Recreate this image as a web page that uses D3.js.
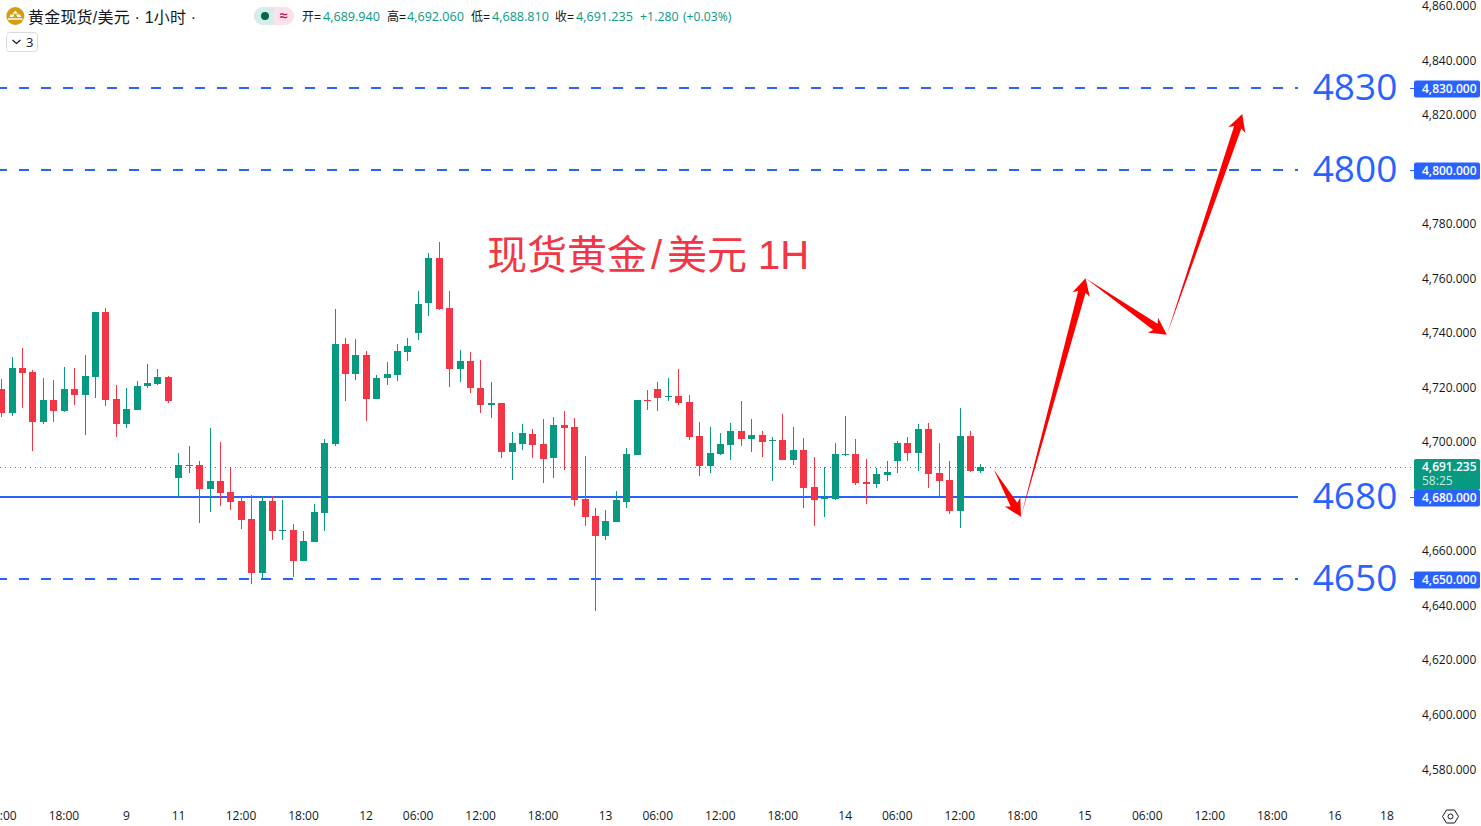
<!DOCTYPE html>
<html>
<head>
<meta charset="utf-8">
<script src="https://d3js.org/d3.v7.min.js"></script>
<style>
    html, body { margin: 0; padding: 0; background: #fff; overflow: hidden; }
    svg { display: block; }
    text { font-family: "Open Sans", "Noto Sans", sans-serif; }
    .cjk { font-family: "Liberation Sans", "Noto Sans CJK SC", sans-serif; }
    .axis path { display: none; }
</style>
</head>
<body>
<div id="chart"></div>
<script>
// hourly candles
const opens = [4719.4,4710.6,4727.1,4725.6,4707.3,4715.3,4711.3,4719.4,4717.2,4723.8,4747.6,4715.7,4706.5,4711.7,4720.5,4721.2,4723.8,4686.7,4691.1,4691.5,4682.7,4685.6,4681.6,4678.3,4671.7,4651.9,4678.3,4667.3,4667.7,4656.3,4663.3,4673.9,4699.2,4735.9,4724.9,4731.8,4715.7,4723.4,4724.5,4732.9,4739.9,4750.9,4767.4,4749.1,4726.7,4729.6,4719.7,4713.5,4714.2,4696.3,4699.2,4702.9,4699.2,4694.0,4706.2,4705.4,4679.0,4672.8,4665.5,4670.6,4677.9,4695.2,4715.3,4719.4,4716.4,4716.8,4714.6,4702.1,4691.1,4695.5,4698.8,4704.0,4701.0,4702.5,4700.3,4700.7,4693.3,4697.0,4683.4,4679.0,4679.0,4695.2,4695.5,4685.3,4684.5,4687.8,4693.0,4699.6,4695.9,4704.7,4688.6,4686.0,4674.6,4702.1,4689.3];
const highs = [4723.0,4731.1,4734.4,4726.3,4723.4,4722.7,4727.4,4727.1,4731.8,4747.6,4749.1,4720.8,4719.7,4722.3,4728.5,4726.7,4724.1,4695.9,4698.5,4693.0,4705.1,4699.9,4690.4,4679.8,4680.5,4680.1,4680.1,4678.7,4669.9,4667.3,4677.2,4701.0,4748.7,4738.1,4737.7,4733.3,4724.5,4729.3,4735.9,4738.1,4755.3,4769.2,4773.3,4755.3,4733.7,4732.9,4730.0,4721.9,4714.2,4703.6,4706.5,4704.7,4708.4,4709.1,4711.3,4708.7,4694.8,4675.7,4675.0,4682.0,4697.7,4715.3,4719.0,4721.9,4723.4,4726.7,4717.2,4707.3,4705.4,4703.2,4706.9,4715.0,4708.4,4704.0,4701.8,4710.2,4705.4,4701.4,4694.4,4690.8,4699.6,4709.5,4701.0,4693.7,4690.4,4693.0,4700.3,4701.8,4706.5,4706.9,4699.6,4693.0,4712.4,4704.0,4691.9];
const lows = [4709.1,4709.5,4712.4,4696.6,4706.5,4707.3,4710.9,4713.5,4702.5,4716.1,4713.1,4701.8,4705.1,4711.7,4719.7,4720.8,4714.2,4679.8,4688.6,4670.2,4674.3,4676.5,4675.0,4668.0,4647.9,4649.7,4664.0,4664.0,4650.4,4656.3,4663.3,4667.3,4698.5,4715.0,4722.7,4707.6,4715.7,4720.8,4722.3,4729.6,4737.3,4746.2,4748.3,4720.1,4721.9,4717.9,4710.6,4708.7,4694.0,4686.0,4697.0,4694.0,4684.9,4686.7,4689.7,4676.5,4669.1,4638.0,4664.0,4670.6,4675.7,4695.2,4711.7,4711.3,4715.0,4713.5,4700.7,4687.5,4688.6,4695.2,4693.3,4698.5,4696.3,4694.4,4685.6,4693.3,4691.5,4675.7,4669.1,4672.4,4678.7,4694.8,4684.2,4677.2,4683.1,4685.6,4688.6,4693.0,4689.3,4683.1,4679.8,4673.5,4668.4,4688.9,4688.6];
const closes = [4710.6,4727.1,4725.2,4707.3,4715.3,4711.3,4719.4,4717.2,4724.1,4747.6,4715.3,4706.5,4712.0,4720.5,4721.6,4723.8,4715.0,4691.5,4691.5,4682.7,4685.6,4681.2,4677.9,4671.3,4651.9,4678.3,4667.3,4667.7,4656.3,4663.6,4674.3,4699.6,4735.9,4724.9,4731.8,4715.7,4723.4,4724.9,4733.3,4735.1,4750.5,4767.4,4748.7,4726.7,4729.6,4719.7,4713.5,4714.2,4696.3,4699.6,4703.2,4698.8,4693.7,4706.2,4705.1,4678.7,4672.4,4665.5,4671.0,4678.7,4695.5,4715.3,4714.9,4716.1,4716.8,4714.2,4701.8,4691.1,4695.9,4699.2,4704.0,4701.0,4702.5,4699.9,4700.7,4693.3,4697.0,4683.1,4678.7,4679.4,4695.5,4695.5,4684.9,4684.5,4688.2,4688.9,4699.6,4695.9,4704.7,4688.2,4685.6,4674.6,4702.1,4689.3,4690.8];

// x axis labels and the candle slot each one sits on
const timeLabels = ["12:00","18:00","9","11","12:00","18:00","12","06:00","12:00","18:00","13","06:00","12:00","18:00","14","06:00","12:00","18:00","15","06:00","12:00","18:00","16","18"];
const timeSlots = [0,6,12,17,23,29,35,40,46,52,58,63,69,75,81,86,92,98,104,110,116,122,128,133];

const priceTicks = [4860,4840,4820,4800,4780,4760,4740,4720,4700,4680,4660,4640,4620,4600,4580];
const levels = [4830,4800,4680,4650];
const lastPrice = 4691.235;
const lastPriceDrawn = 4690.8; // where the dotted line actually sits in the picture
const countdown = "58:25";

// forecast path: candle slot and price of each turn
const pathSlots = [95.2,97.8,104,111.8,119.04];
const pathPrices = [4689.7,4672.5,4760,4739.2,4820.2];

const headerTitle = "黄金现货/美元 · 1小时 ·";
const chartTitle = ["现货黄金", "/", "美元 1H"];
const ohlcNames = ["开","高","低","收"];
const ohlcValues = ["4,689.940","4,692.060","4,688.810","4,691.235"];
const changeText = ["+1.280","(+0.03%)"];

const GREEN = "#089981", RED = "#f23645", BLUE = "#2962ff";

function drawChart() {
    let W = 1481, H = 826;

    let svg = d3.select("#chart").append("svg")
        .attr("width", W).attr("height", H)
        .attr("viewBox", "0 0 " + W + " " + H);

    svg.append("rect").attr("width", W).attr("height", H).attr("fill", "#fff");

    let x = d3.scaleLinear().domain([0, 133]).range([2.22, 1387.68]);
    let y = d3.scaleLinear().domain([4840, 4580]).range([60, 769]);
    let fmt = d3.format(",.3f");

    let candles = opens.map(function(o, i) {
        return {i: i, o: o, h: highs[i], l: lows[i], c: closes[i]};
    });
    let col = function(d) { return d.c >= d.o ? GREEN : RED; };

    // last price dotted line
    svg.append("line")
        .attr("x1", 0).attr("x2", 1411)
        .attr("y1", Math.round(y(lastPriceDrawn)) + 0.5).attr("y2", Math.round(y(lastPriceDrawn)) + 0.5)
        .attr("stroke", GREEN).attr("stroke-width", 1).attr("stroke-dasharray", "1 4");

    // horizontal levels, 4680 is the solid one
    svg.selectAll(".level").data(levels).join("line")
        .attr("class", "level")
        .attr("x1", 0).attr("x2", 1298)
        .attr("y1", function(d) { return Math.round(y(d)) + 1; })
        .attr("y2", function(d) { return Math.round(y(d)) + 1; })
        .attr("stroke", BLUE).attr("stroke-width", 2)
        .attr("stroke-dasharray", function(d) { return d == 4680 ? null : "10 12"; })
        .attr("stroke-dashoffset", 3);

    svg.selectAll(".level-label").data(levels).join("text")
        .attr("class", "level-label")
        .attr("x", 1355).attr("y", function(d) { return y(d) + 13; })
        .attr("text-anchor", "middle")
        .attr("font-size", 37).attr("fill", BLUE)
        .text(function(d) { return d; });

    // candles
    let g = svg.append("g").attr("shape-rendering", "crispEdges");
    g.selectAll(".wick").data(candles).join("rect")
        .attr("class", "wick")
        .attr("x", function(d) { return Math.floor(x(d.i) - 3.5) + 3; })
        .attr("width", 1)
        .attr("y", function(d) { return y(d.h); })
        .attr("height", function(d) { return y(d.l) - y(d.h); })
        .attr("fill", col);
    g.selectAll(".body").data(candles).join("rect")
        .attr("class", "body")
        .attr("x", function(d) { return Math.floor(x(d.i) - 3.5); })
        .attr("width", 7)
        .attr("y", function(d) { return y(Math.max(d.o, d.c)); })
        .attr("height", function(d) { return Math.max(1, Math.abs(y(d.o) - y(d.c))); })
        .attr("fill", col);

    // tapered red arrows between the turns of the path
    let arrow = function(x0, y0, x1, y1) {
        let len = Math.hypot(x1 - x0, y1 - y0);
        let ux = (x1 - x0) / len, uy = (y1 - y0) / len;
        let nx = -uy, ny = ux;
        let headLen = 17, headW = 9, neckW = 3.8;
        let bx = x1 - ux * headLen, by = y1 - uy * headLen;
        // neck sits a little inside the wings, as the drawing tool does it
        let nkx = x1 - ux * (headLen - 3), nky = y1 - uy * (headLen - 3);
        return [
            [x0, y0],
            [nkx + nx * neckW, nky + ny * neckW],
            [bx + nx * headW, by + ny * headW],
            [x1, y1],
            [bx - nx * headW, by - ny * headW],
            [nkx - nx * neckW, nky - ny * neckW]
        ];
    };
    let segs = d3.pairs(pathSlots.map(function(s, i) { return [x(s), y(pathPrices[i])]; }));
    svg.selectAll(".arrow").data(segs).join("polygon")
        .attr("class", "arrow")
        .attr("fill", "#ff0000")
        .attr("points", function(d) {
            return arrow(d[0][0], d[0][1], d[1][0], d[1][1]).map(function(p) { return p.join(","); }).join(" ");
        });

    // price axis
    let yAxis = d3.axisRight(y).tickValues(priceTicks).tickSize(0).tickPadding(0).tickFormat(fmt);
    let ya = svg.append("g").attr("class", "axis").attr("transform", "translate(1422,0.2)").call(yAxis);
    ya.selectAll("text").attr("font-size", 12).attr("fill", "#131722");

    // x axis
    let xAxis = d3.axisBottom(x).tickValues(timeSlots).tickSize(0).tickPadding(0)
        .tickFormat(function(d) { return timeLabels[timeSlots.indexOf(d)]; });
    let xa = svg.append("g").attr("class", "axis").attr("transform", "translate(-1.3,811)").call(xAxis);
    xa.selectAll("text").attr("font-size", 12).attr("fill", "#131722");

    // price tags on the axis
    svg.selectAll(".tag").data(levels).join("rect")
        .attr("class", "tag")
        .attr("x", 1414).attr("width", 66).attr("height", 17).attr("rx", 2)
        .attr("y", function(d) { return Math.round(y(d)) - 6.5; })
        .attr("fill", BLUE);
    svg.selectAll(".tag-mark").data(levels).join("rect")
        .attr("class", "tag-mark")
        .attr("x", 1410).attr("width", 4).attr("height", 1)
        .attr("y", function(d) { return Math.round(y(d)) + 1; })
        .attr("fill", BLUE);
    svg.selectAll(".tag-text").data(levels).join("text")
        .attr("class", "tag-text")
        .attr("x", 1422).attr("y", function(d) { return Math.round(y(d)) + 5.5; })
        .attr("font-size", 12).attr("font-weight", 600).attr("fill", "#fff")
        .text(function(d) { return fmt(d); });

    svg.append("rect").attr("x", 1414).attr("y", 459).attr("width", 66).attr("height", 31).attr("rx", 2).attr("fill", GREEN);
    svg.append("text").attr("x", 1422).attr("y", 471).attr("font-size", 12).attr("font-weight", 600).attr("fill", "#fff").text(fmt(lastPrice));
    svg.append("text").attr("x", 1422).attr("y", 485).attr("font-size", 12).attr("fill", "#fff").attr("fill-opacity", 0.8).text(countdown);

    // big annotation
    let titleX = [487, 651, 667];
    svg.append("text").attr("class", "cjk")
        .attr("y", 269)
        .attr("font-size", 40).attr("fill", RED)
        .selectAll("tspan").data(chartTitle).join("tspan")
        .attr("x", function(d, i) { return titleX[i]; })
        .text(function(d) { return d; });

    // header
    let head = svg.append("g");
    head.append("circle").attr("cx", 15.3).attr("cy", 16).attr("r", 9).attr("fill", "#d69e0c");
    head.append("path").attr("d", "M15.3 10.5l2.6 3.2h-5.2zM10.6 14.4h3.8l-1 2.6h-4zM16.2 14.4h3.8l1.2 2.6h-4zM8 18.2h14.6v1.6H8z").attr("fill", "#fff");
    head.append("text").attr("class", "cjk").attr("x", 28).attr("y", 23)
        .attr("font-size", 16).attr("letter-spacing", 0.2).attr("fill", "#131722").text(headerTitle);

    head.append("rect").attr("x", 254).attr("y", 7).attr("width", 40).attr("height", 18).attr("rx", 9).attr("fill", "#fce0ea");
    head.append("path").attr("d", "M263 7h11v18h-11a9 9 0 0 1 0-18z").attr("fill", "#d5ede8");
    head.append("circle").attr("cx", 265).attr("cy", 16).attr("r", 4).attr("fill", "#056656");
    head.append("text").attr("x", 283.5).attr("y", 21).attr("text-anchor", "middle")
        .attr("font-size", 15).attr("font-weight", 600).attr("fill", "#b0155c").text("≈");

    let nameX = [302, 387, 471, 555], valX = [323, 407, 492, 576];
    head.selectAll(".ohlc-n").data(ohlcNames).join("text")
        .attr("class", "ohlc-n cjk")
        .attr("x", function(d, i) { return nameX[i]; }).attr("y", 21)
        .attr("font-size", 12).attr("fill", "#131722")
        .text(function(d) { return d + "="; });
    head.selectAll(".ohlc-v").data(ohlcValues).join("text")
        .attr("class", "ohlc-v")
        .attr("x", function(d, i) { return valX[i]; }).attr("y", 21)
        .attr("font-size", 12.6).attr("fill", GREEN)
        .text(function(d) { return d; });
    head.append("text").attr("x", 640).attr("y", 21).attr("font-size", 12.4).attr("fill", GREEN).text(changeText[0]);
    head.append("text").attr("x", 683).attr("y", 21).attr("font-size", 12.2).attr("fill", GREEN).text(changeText[1]);

    // collapsed indicators box
    head.append("rect").attr("x", 6.5).attr("y", 32.5).attr("width", 31).attr("height", 19).attr("rx", 3)
        .attr("fill", "#fff").attr("stroke", "#d8dbe2");
    head.append("path").attr("d", "M12.5 40l4 3.5l4-3.5").attr("fill", "none").attr("stroke", "#131722").attr("stroke-width", 1.2);
    head.append("text").attr("x", 26).attr("y", 46.5).attr("font-size", 13).attr("fill", "#131722").text("3");

    // settings icon
    svg.append("path").attr("d", "M1442.5 816.5l4-6.5h8l4 6.5l-4 6.5h-8z").attr("fill", "none").attr("stroke", "#131722");
    svg.append("circle").attr("cx", 1450.5).attr("cy", 816.5).attr("r", 2.5).attr("fill", "none").attr("stroke", "#131722");
}

drawChart();
</script>
</body>
</html>
